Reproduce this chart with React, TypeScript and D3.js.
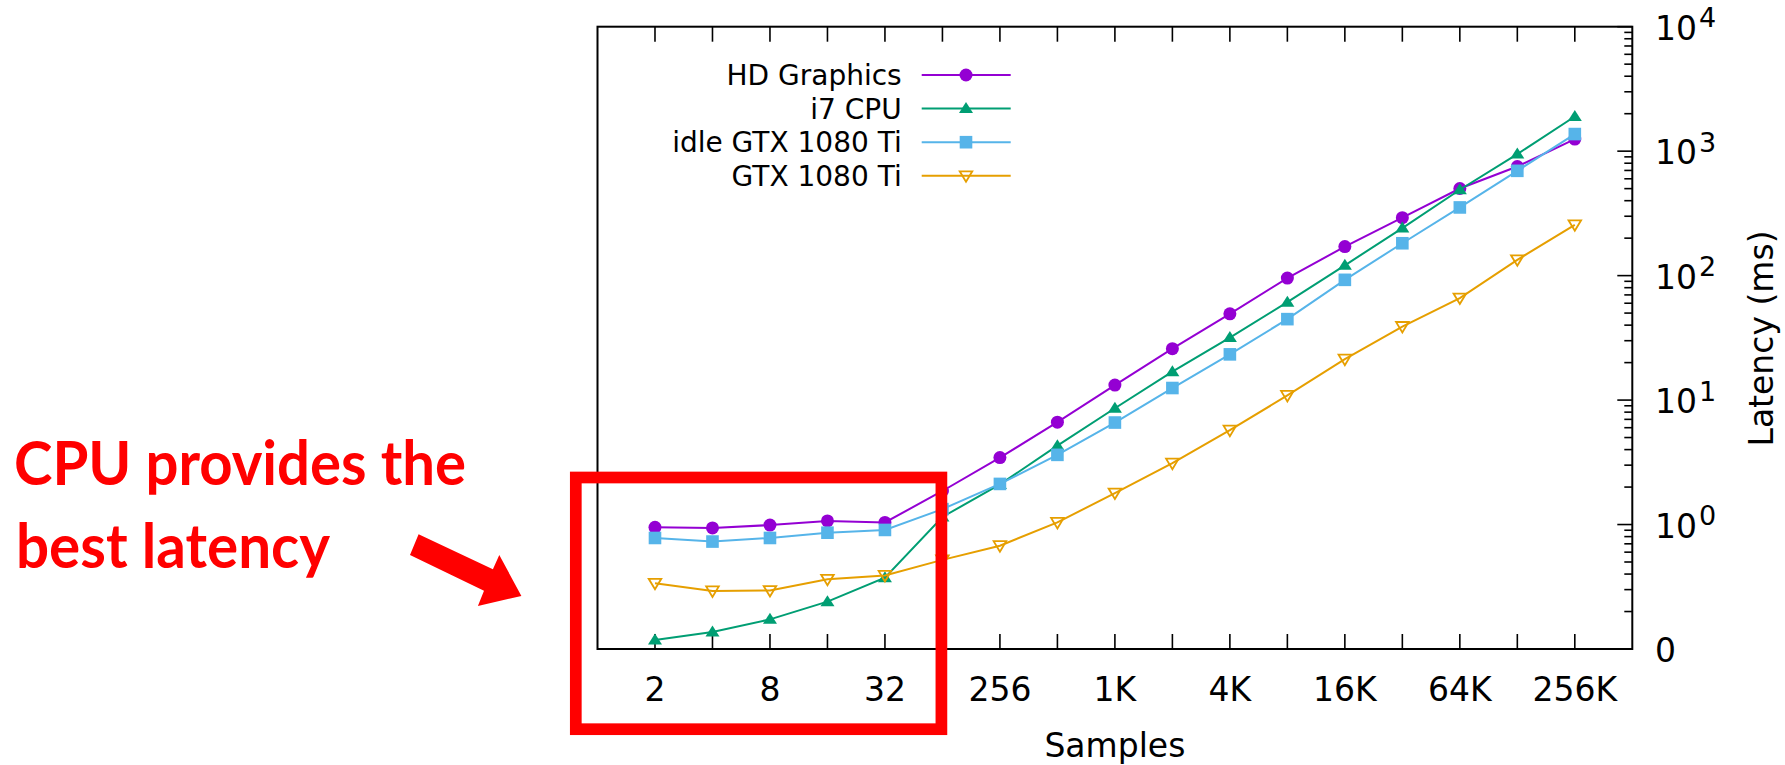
import React from "react";
import * as d3 from "d3"

// x categories (sample counts), only every other one gets a label
const samples = ["2", "4", "8", "16", "32", "64", "256", "512", "1K", "2K", "4K", "8K", "16K", "32K", "64K", "128K", "256K"]
const sampleLabels = ["2", "", "8", "", "32", "", "256", "", "1K", "", "4K", "", "16K", "", "64K", "", "256K"]

const seriesNames = ["HD Graphics", "i7 CPU", "idle GTX 1080 Ti", "GTX 1080 Ti"]
// latency in ms
const hdGraphics = [0.95, 0.94, 0.99, 1.07, 1.04, 1.86, 3.45, 6.64, 13.2, 25.9, 49.3, 95.5, 171, 292, 501, 753, 1250]
const i7Cpu = [0.118, 0.137, 0.173, 0.24, 0.374, 1.15, 2.1, 4.3, 8.6, 16.9, 31.8, 61.2, 121, 241, 490, 948, 1900]
const idleGtx = [0.78, 0.73, 0.78, 0.86, 0.905, 1.33, 2.12, 3.63, 6.6, 12.5, 23.3, 44.7, 92.5, 182, 353, 695, 1372]
const gtx = [0.337, 0.293, 0.295, 0.363, 0.39, 0.52, 0.676, 1.04, 1.79, 3.11, 5.73, 10.9, 21.3, 39, 66, 134, 256]

const yDecades = [0.1, 1, 10, 100, 1000, 10000]
const yDecadeLabels = ["0", "0", "1", "2", "3", "4"]

const colors = ["#9400D3", "#009E73", "#56B4E9", "#E69F00"]
const markers = ["circle", "triangle", "square", "triangleDown"]

const W = 1785, H = 765
const left = 597.5, right = 1632.3, top = 26.7, bottom = 649
const font = "'DejaVu Sans', sans-serif"

const drawMarker = (g: any, type: string, color: string, cx: number, cy: number) => {
    if (type === "circle") {
        g.append("circle").attr("cx", cx).attr("cy", cy).attr("r", 6.5).attr("fill", color)
    } else if (type === "square") {
        g.append("rect").attr("x", cx - 6.3).attr("y", cy - 6.3).attr("width", 12.6).attr("height", 12.6).attr("fill", color)
    } else if (type === "triangle") {
        g.append("path").attr("d", `M${cx},${cy - 6.5}L${cx + 7},${cy + 4.5}L${cx - 7},${cy + 4.5}Z`).attr("fill", color)
    } else {
        g.append("path").attr("d", `M${cx - 6.3},${cy - 4.5}L${cx + 6.3},${cy - 4.5}L${cx},${cy + 6}Z`)
            .attr("fill", "none").attr("stroke", color).attr("stroke-width", 1.8)
    }
}

export default class App extends React.Component {
    svg: React.RefObject<SVGSVGElement> = React.createRef<SVGSVGElement>()
    componentDidMount() {
        //@ts-ignore
        const svg = d3.select(this.svg.current)
        svg.selectAll("*").remove()

        const data = [hdGraphics, i7Cpu, idleGtx, gtx]
        const x = d3.scaleLinear().domain([-1, samples.length]).range([left, right])
        const y = d3.scaleLog().domain([0.1, 10000]).range([bottom, top])

        // ticks
        const ticks = svg.append("g").attr("stroke", "#000").attr("stroke-width", 1.6)
        samples.forEach((s, i) => {
            ticks.append("line").attr("x1", x(i)).attr("x2", x(i)).attr("y1", bottom).attr("y2", bottom - 15)
            ticks.append("line").attr("x1", x(i)).attr("x2", x(i)).attr("y1", top).attr("y2", top + 15)
        })
        yDecades.forEach((d, i) => {
            ticks.append("line").attr("x1", right).attr("x2", right - 15).attr("y1", y(d)).attr("y2", y(d))
            if (i < yDecades.length - 1) {
                d3.range(2, 10).forEach(k => {
                    ticks.append("line").attr("x1", right).attr("x2", right - 8)
                        .attr("y1", y(d * k)).attr("y2", y(d * k))
                })
            }
        })

        // frame
        svg.append("rect").attr("x", left).attr("y", top).attr("width", right - left).attr("height", bottom - top)
            .attr("fill", "none").attr("stroke", "#000").attr("stroke-width", 2)

        // x labels
        svg.append("g").selectAll("text").data(sampleLabels).join("text")
            .attr("x", (d, i) => x(i)).attr("y", 701).attr("text-anchor", "middle")
            .attr("font-family", font).attr("font-size", 33).attr("fill", "#000")
            .text(d => d)

        // y labels
        yDecades.forEach((d, i) => {
            const t = svg.append("text").attr("x", 1655).attr("y", y(d) + 13.3)
                .attr("font-family", font).attr("font-size", 33).attr("fill", "#000")
            if (i === 0) {
                t.text("0")
            } else {
                t.append("tspan").text("10")
                t.append("tspan").attr("dy", -12.7).attr("dx", 2).attr("font-size", 27).text(yDecadeLabels[i])
            }
        })

        svg.append("text").attr("x", (left + right) / 2).attr("y", 757).attr("text-anchor", "middle")
            .attr("font-family", font).attr("font-size", 33).attr("fill", "#000").text("Samples")
        svg.append("text").attr("transform", "translate(1773,338.5) rotate(-90)")
            .attr("text-anchor", "middle").attr("font-family", font).attr("font-size", 33).attr("fill", "#000")
            .text("Latency (ms)")

        // series
        const line = d3.line<number>().x((d, i) => x(i)).y(d => y(d))
        data.forEach((values, k) => {
            const g = svg.append("g")
            g.append("path").attr("d", line(values)).attr("fill", "none")
                .attr("stroke", colors[k]).attr("stroke-width", 2)
            values.forEach((v, i) => drawMarker(g, markers[k], colors[k], x(i), y(v)))
        })

        // legend
        const legend = svg.append("g")
        seriesNames.forEach((name, k) => {
            const ly = 75 + k * 33.6
            legend.append("text").attr("x", 901.7).attr("y", ly + 10).attr("text-anchor", "end")
                .attr("font-family", font).attr("font-size", 28).attr("fill", "#000").text(name)
            legend.append("line").attr("x1", 921.7).attr("x2", 1010.7).attr("y1", ly).attr("y2", ly)
                .attr("stroke", colors[k]).attr("stroke-width", 2)
            drawMarker(legend, markers[k], colors[k], 966, ly)
        })

        // annotation
        const note = svg.append("g")
        note.append("rect").attr("x", 575.8).attr("y", 477.5).attr("width", 365.6).attr("height", 251.7)
            .attr("fill", "none").attr("stroke", "#FF0000").attr("stroke-width", 11.7)
        note.append("path")
            .attr("d", "M418.6,534.3L492.9,569.3L499.3,555L521.4,596L477.9,606L484,590.7L410,555Z")
            .attr("fill", "#FF0000")
        const noteFont = "Lato, 'Open Sans', sans-serif"
        note.append("text").attr("x", 14).attr("y", 485).attr("font-family", noteFont).attr("font-weight", "bold")
            .attr("font-size", 62).attr("fill", "#FF0000").attr("textLength", 452).attr("lengthAdjust", "spacingAndGlyphs")
            .text("CPU provides the")
        note.append("text").attr("x", 16).attr("y", 567.5).attr("font-family", noteFont).attr("font-weight", "bold")
            .attr("font-size", 62).attr("fill", "#FF0000").attr("textLength", 314).attr("lengthAdjust", "spacingAndGlyphs")
            .text("best latency")
    }
    render(): React.ReactNode {
        return (
            <>
                <svg ref={this.svg} width={W} height={H} viewBox={`0 0 ${W} ${H}`}
                    style={{ position: "absolute", left: 0, top: 0, background: "#fff" }}></svg>
            </>
        )
    }
}
